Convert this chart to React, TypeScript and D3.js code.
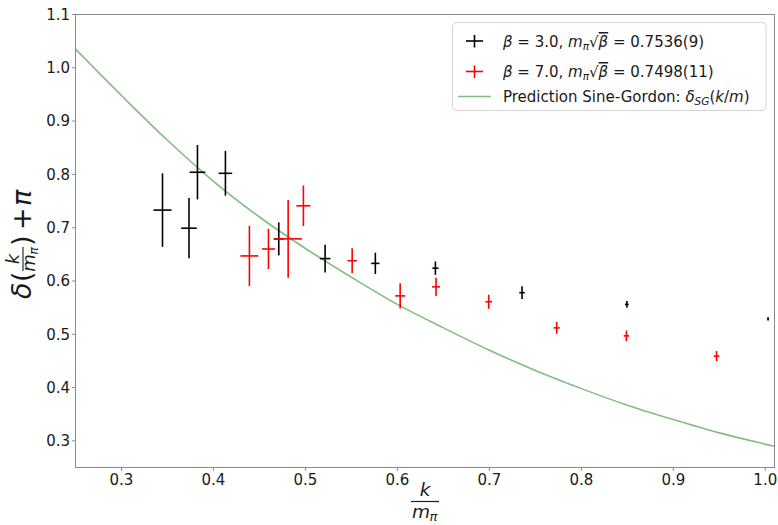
import React from 'react';
import * as d3 from 'd3';

const WIDTH = 778;
const HEIGHT = 525;
const PLOT = { left: 75.5, right: 774.5, top: 14.5, bottom: 467.5 };

const xTicks = [0.3, 0.4, 0.5, 0.6, 0.7, 0.8, 0.9, 1.0];
const yTicks = [0.3, 0.4, 0.5, 0.6, 0.7, 0.8, 0.9, 1.0, 1.1];

// beta = 3.0 ensemble: momentum k/m_pi, phase shift delta + pi, and uncertainties
const beta3K = [0.3446, 0.3734, 0.3826, 0.413, 0.471, 0.5214, 0.576, 0.6413, 0.7355, 0.8495, 1.003];
const beta3KErr = [0.0098, 0.0085, 0.0085, 0.0074, 0.0055, 0.0058, 0.0045, 0.0033, 0.003, 0.002, 0.001];
const beta3Delta = [0.733, 0.699, 0.804, 0.802, 0.679, 0.642, 0.633, 0.624, 0.578, 0.556, 0.529];
const beta3DeltaErr = [0.069, 0.0565, 0.051, 0.042, 0.031, 0.026, 0.02, 0.0125, 0.012, 0.0064, 0.003];

// beta = 7.0 ensemble
const beta7K = [0.4391, 0.4598, 0.4812, 0.4978, 0.5508, 0.603, 0.642, 0.6993, 0.7732, 0.849, 0.947];
const beta7KErr = [0.0098, 0.007, 0.015, 0.0077, 0.005, 0.0054, 0.0043, 0.0036, 0.0033, 0.003, 0.003];
const beta7Delta = [0.647, 0.66, 0.679, 0.741, 0.638, 0.572, 0.589, 0.561, 0.512, 0.497, 0.459];
const beta7DeltaErr = [0.0564, 0.0376, 0.073, 0.038, 0.0235, 0.0235, 0.0172, 0.0132, 0.011, 0.01, 0.0095];

// Sine-Gordon prediction delta_SG(k/m), sampled
const sgK = [0.25, 0.3, 0.35, 0.4, 0.45, 0.5, 0.55, 0.6, 0.65, 0.7, 0.75, 0.8, 0.85, 0.9, 0.95, 1.01];
const sgDelta = [1.035, 0.948, 0.864, 0.787, 0.72, 0.661, 0.607, 0.556, 0.512, 0.47, 0.432, 0.398, 0.367, 0.34, 0.315, 0.29];

const FONT = '"DejaVu Sans", sans-serif';
const SPINE = '#8a8a8a';
const GREEN = 'rgb(127,191,127)';

type Pt = { k: number; ke: number; d: number; de: number };
const zipSeries = (k: number[], ke: number[], d: number[], de: number[]): Pt[] =>
  k.map((v, i) => ({ k: v, ke: ke[i], d: d[i], de: de[i] }));

export default function App() {
  const x = d3.scaleLinear().domain([0.25, 1.01]).range([PLOT.left, PLOT.right]);
  const y = d3.scaleLinear().domain([0.25, 1.1]).range([PLOT.bottom, PLOT.top]);
  const fmt = d3.format('.1f');

  const sgLine = d3
    .line<number>()
    .x((_, i) => x(sgK[i]))
    .y((v) => y(v))
    .curve(d3.curveMonotoneX)(sgDelta) as string;

  const series = [
    { color: 'black', pts: zipSeries(beta3K, beta3KErr, beta3Delta, beta3DeltaErr) },
    { color: 'red', pts: zipSeries(beta7K, beta7KErr, beta7Delta, beta7DeltaErr) },
  ];

  const yLabelF = 27;
  const fracF = 18;

  return (
    <svg
      width={WIDTH}
      height={HEIGHT}
      style={{ position: 'absolute', left: 0, top: 0, background: 'white' }}
      fontFamily={FONT}
    >
      <rect x={0} y={0} width={WIDTH} height={HEIGHT} fill="white" />
      <defs>
        <clipPath id="plot-clip">
          <rect x={PLOT.left} y={PLOT.top} width={PLOT.right - PLOT.left} height={PLOT.bottom - PLOT.top} />
        </clipPath>
      </defs>

      {/* prediction curve */}
      <path d={sgLine} fill="none" stroke={GREEN} strokeWidth={1.6} clipPath="url(#plot-clip)" />

      {/* error-bar crosses */}
      {series.map((s, si) => (
        <g key={si} stroke={s.color} strokeWidth={1.6}>
          {s.pts.map((p, i) => (
            <g key={i}>
              <line x1={x(p.k - p.ke)} x2={x(p.k + p.ke)} y1={y(p.d)} y2={y(p.d)} />
              <line x1={x(p.k)} x2={x(p.k)} y1={y(p.d - p.de)} y2={y(p.d + p.de)} />
            </g>
          ))}
        </g>
      ))}

      {/* frame */}
      <rect
        x={PLOT.left}
        y={PLOT.top}
        width={PLOT.right - PLOT.left}
        height={PLOT.bottom - PLOT.top}
        fill="none"
        stroke={SPINE}
        strokeWidth={1}
      />

      {/* x ticks */}
      {xTicks.map((t) => (
        <g key={t}>
          <line x1={x(t)} x2={x(t)} y1={PLOT.bottom} y2={PLOT.bottom + 3.5} stroke={SPINE} />
          <text x={x(t)} y={PLOT.bottom + 17} fontSize={15} textAnchor="middle" fill="#1a1a1a">
            {fmt(t)}
          </text>
        </g>
      ))}

      {/* y ticks */}
      {yTicks.map((t) => (
        <g key={t}>
          <line x1={PLOT.left - 3.5} x2={PLOT.left} y1={y(t)} y2={y(t)} stroke={SPINE} />
          <text x={PLOT.left - 5.5} y={y(t) + 5.3} fontSize={15} textAnchor="end" fill="#1a1a1a">
            {fmt(t)}
          </text>
        </g>
      ))}

      {/* x label: k / m_pi */}
      <g fill="#1a1a1a">
        <text x={425} y={496} fontSize={18.5} fontStyle="italic" textAnchor="middle">
          k
        </text>
        <line x1={411} x2={439} y1={501.5} y2={501.5} stroke="#1a1a1a" strokeWidth={1.2} />
        <text x={421} y={518} fontSize={18.5} fontStyle="italic" textAnchor="middle">
          m
        </text>
        <text x={433.5} y={521} fontSize={13} fontStyle="italic" textAnchor="middle">
          π
        </text>
      </g>

      {/* y label: delta(k/m_pi) + pi */}
      <g transform="translate(0,246) rotate(-90)" fill="#1a1a1a">
        <text x={-53} y={31} fontSize={yLabelF} fontStyle="italic">
          δ
        </text>
        <text x={-36} y={31} fontSize={yLabelF}>
          (
        </text>
        <text x={-13} y={19} fontSize={fracF} fontStyle="italic" textAnchor="middle">
          k
        </text>
        <line x1={-25} x2={-1} y1={23} y2={23} stroke="#1a1a1a" strokeWidth={1.1} />
        <text x={-17} y={35} fontSize={fracF} fontStyle="italic" textAnchor="middle">
          m
        </text>
        <text x={-5} y={38} fontSize={12.5} fontStyle="italic" textAnchor="middle">
          π
        </text>
        <text x={0} y={31} fontSize={yLabelF}>
          )
        </text>
        <text x={16} y={31} fontSize={yLabelF}>
          +
        </text>
        <text x={40} y={31} fontSize={yLabelF} fontStyle="italic">
          π
        </text>
      </g>

      {/* legend */}
      <g>
        <rect x={452.5} y={22.5} width={313.5} height={88} rx={4} fill="white" fillOpacity={0.8} stroke="#d4d4d4" />
        <g stroke="black" strokeWidth={1.6}>
          <line x1={466} x2={483} y1={41} y2={41} />
          <line x1={474.5} x2={474.5} y1={35} y2={47.5} />
        </g>
        <g stroke="red" strokeWidth={1.6}>
          <line x1={466} x2={483} y1={71.5} y2={71.5} />
          <line x1={474.5} x2={474.5} y1={65.5} y2={78} />
        </g>
        <line x1={458} x2={491} y1={96.5} y2={96.5} stroke={GREEN} strokeWidth={1.6} />

        {[
          { yb: 47, val: '3.0', mass: '0.7536(9)' },
          { yb: 77, val: '7.0', mass: '0.7498(11)' },
        ].map((r) => (
          <text key={r.val} x={503} y={r.yb} fontSize={15} fill="#1a1a1a">
            <tspan fontStyle="italic">β</tspan>
            <tspan> = {r.val}, </tspan>
            <tspan fontStyle="italic">m</tspan>
            <tspan fontStyle="italic" fontSize={10.5} dy={3}>
              π
            </tspan>
            <tspan dy={-3}>√</tspan>
            <tspan fontStyle="italic" textDecoration="overline">
              β
            </tspan>
            <tspan> = {r.mass}</tspan>
          </text>
        ))}
        <text x={503} y={102} fontSize={15} fill="#1a1a1a">
          <tspan>Prediction Sine-Gordon: </tspan>
          <tspan fontStyle="italic">δ</tspan>
          <tspan fontStyle="italic" fontSize={10.5} dy={3}>
            SG
          </tspan>
          <tspan dy={-3}>(</tspan>
          <tspan fontStyle="italic">k</tspan>
          <tspan>/</tspan>
          <tspan fontStyle="italic">m</tspan>
          <tspan>)</tspan>
        </text>
      </g>
    </svg>
  );
}
